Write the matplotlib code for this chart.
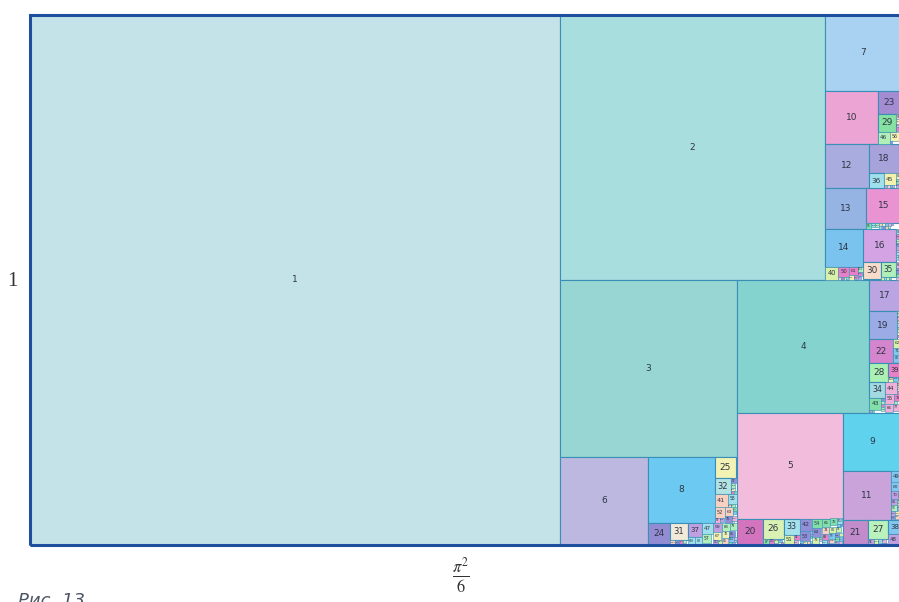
import numpy as np
import matplotlib.pyplot as plt
from matplotlib.patches import Rectangle

# squares with side 1/n, packed into a 1 x pi^2/6 box
n_squares = 260
labels = list(range(1, n_squares + 1))
box_width = np.pi**2 / 6
box_height = 1.0

# colours for the first squares, the rest cycle
first_colors = ['#c3e3e8', '#a9dedf', '#97d6d3', '#85d3cf', '#f2bcdc', '#bcb8e0',
                '#a9d2f2', '#6ccaf2', '#5fd2ee', '#eba4d4', '#c9a3da', '#a9acde',
                '#95b3e3', '#7bc3ef', '#ea93d3', '#d3a3e3', '#bba4e2', '#a7a2da',
                '#9babe6', '#d574be', '#c28ccb', '#d585cd', '#a48cd3', '#948cd3',
                '#f3f2b5', '#d9f1b3', '#bbf1bb', '#abf1b3', '#85e2a3', '#f8dcc9',
                '#f1ead9', '#b3e2e3', '#a3e2ea', '#a3dae2']
cycle_colors = ['#f0b0d8', '#f4f0b0', '#b0f0b8', '#a0e0ec', '#c0a0e0',
                '#80c8f0', '#e880c8', '#d8f0a8', '#f8d0c0', '#9090d8', '#80e0a8']


def pack(sides, W, H):
    # first fit over a queue of free rectangles (x, top, w, h), square goes
    # to the top-left corner, the cut runs across the shorter side
    free = [(0.0, 0.0, W, H)]
    placed = []
    eps = 1e-9
    for s in sides:
        hit = None
        for i, (x, t, w, h) in enumerate(free):
            if w >= s - eps and h >= s - eps:
                hit = i
                break
        if hit is None:
            placed.append(None)
            continue
        x, t, w, h = free.pop(hit)
        placed.append((x, t))
        if w > h:
            bottom = (x, t + s, s, h - s)
            right = (x + s, t, w - s, h)
        else:
            bottom = (x, t + s, w, h - s)
            right = (x + s, t, w - s, s)
        for r in (bottom, right):
            if r[2] > eps and r[3] > eps:
                free.append(r)
    return placed


sides = [1.0 / n for n in labels]
spots = pack(sides, box_width, box_height)

px = 530  # pixels per unit
fig = plt.figure(figsize=(8.99, 6.02), dpi=100)
ax = fig.add_axes([30/899, 57/602, 869/899, px/602])
ax.set_xlim(0, 869/px)
ax.set_ylim(0, 1)
ax.axis('off')

for n, s, spot in zip(labels, sides, spots):
    if spot is None:
        continue
    x, t = spot
    y = box_height - t - s
    if n <= len(first_colors):
        col = first_colors[n - 1]
    else:
        col = cycle_colors[n % len(cycle_colors)]
    lw = 0.8 if n < 40 else 0.4
    ax.add_patch(Rectangle((x, y), s, s, fc=col, ec='#3a8fb7', lw=lw))
    fs = min(6.5, s * px * 0.72 * 0.5)
    if fs >= 1.2:
        ax.text(x + s/2, y + s/2, str(n), ha='center', va='center',
                fontsize=fs, color='#2e3545')

ax.add_patch(Rectangle((0, 0), box_width, box_height, fill=False,
                       ec='#1d4f9e', lw=2.2, zorder=5, clip_on=False))

fig.text(12/899, 1 - 281/602, '1', ha='center', va='center',
         fontsize=15, family='Liberation Serif', color='#333333')
plt.rcParams['mathtext.fontset'] = 'stix'
fig.text(461/899, 1 - 576/602, r'$\frac{\pi^2}{6}$', ha='center', va='center',
         fontsize=17, color='#333333')
fig.text(18/899, 1 - 592/602, 'Рис. 13', ha='left', va='top',
         fontsize=13, style='italic', color='#4d5566')

fig.savefig('out.png', dpi=100)
